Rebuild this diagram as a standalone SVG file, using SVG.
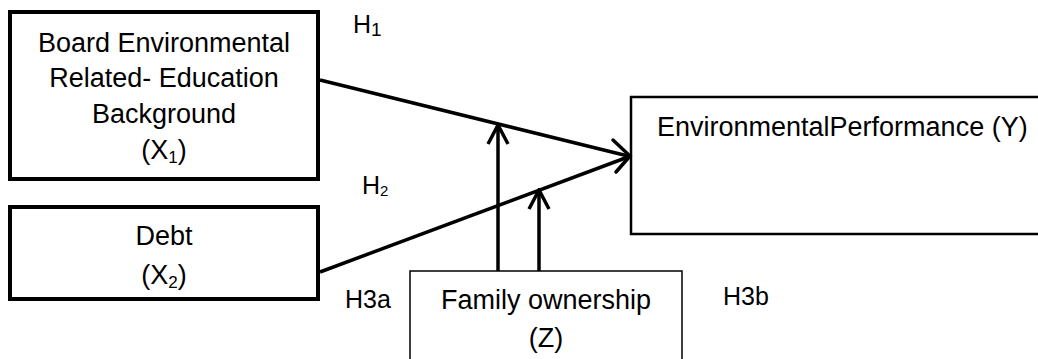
<svg xmlns="http://www.w3.org/2000/svg" width="1038" height="359" viewBox="0 0 1038 359">
<style>
  text { font-family: "Liberation Sans", Arial, sans-serif; fill: #000; }
  .t { font-size: 27px; text-anchor: middle; }
  .h { font-size: 25px; }
  .conn { stroke: #000; stroke-width: 3.5; fill: none; }
  .head { stroke: #000; stroke-width: 3.5; fill: none; stroke-linecap: round; stroke-linejoin: miter; }
</style>
<defs>
  <marker id="chev" markerUnits="userSpaceOnUse" viewBox="-22 -12 24 24" markerWidth="24" markerHeight="24" refX="0" refY="0" orient="auto">
    <path d="M-19,-10 L0,0 L-19,10" fill="none" stroke="#000" stroke-width="3.5"/>
  </marker>
</defs>
<rect x="0" y="0" width="1038" height="359" fill="#fff"/>

<g id="node-x1">
  <rect x="10" y="12" width="308" height="167" fill="#fff" stroke="#000" stroke-width="4"/>
  <text class="t" x="164" y="52">Board Environmental</text>
  <text class="t" x="164" y="87">Related- Education</text>
  <text class="t" x="164" y="123">Background</text>
  <text class="t" x="164" y="159">(X<tspan font-size="17" dy="4">1</tspan><tspan dy="-4">)</tspan></text>
</g>

<g id="node-x2">
  <rect x="10" y="207" width="308" height="92" fill="#fff" stroke="#000" stroke-width="4"/>
  <text class="t" x="164" y="245">Debt</text>
  <text class="t" x="164" y="284">(X<tspan font-size="17" dy="4">2</tspan><tspan dy="-4">)</tspan></text>
</g>

<g id="node-y">
  <rect x="631" y="97" width="420" height="137" fill="#fff" stroke="#000" stroke-width="2.5"/>
  <text x="657" y="136" style="font-size:27px">EnvironmentalPerformance (Y)</text>
</g>

<g id="node-z">
  <rect x="410" y="271" width="272" height="100" fill="#fff" stroke="#000" stroke-width="1.5"/>
  <text class="t" x="546" y="309">Family ownership</text>
  <text class="t" x="546" y="347">(Z)</text>
</g>

<g id="connectors">
  <line class="conn" x1="320" y1="80" x2="628" y2="156"/>
  <line class="conn" x1="320" y1="272" x2="628" y2="157"/>
  <path class="head" d="M613,140 L630,156 L616,172"/>
  <line class="conn" x1="498" y1="271" x2="498" y2="125" marker-end="url(#chev)"/>
  <line class="conn" x1="539" y1="271" x2="539" y2="190" marker-end="url(#chev)"/>
</g>

<g id="labels">
  <text class="h" x="353" y="33">H<tspan font-size="19" dy="3">1</tspan></text>
  <text class="h" x="362" y="194">H<tspan font-size="15" dy="2">2</tspan></text>
  <text class="h" x="345" y="308">H3a</text>
  <text class="h" x="723" y="305">H3b</text>
</g>
</svg>
